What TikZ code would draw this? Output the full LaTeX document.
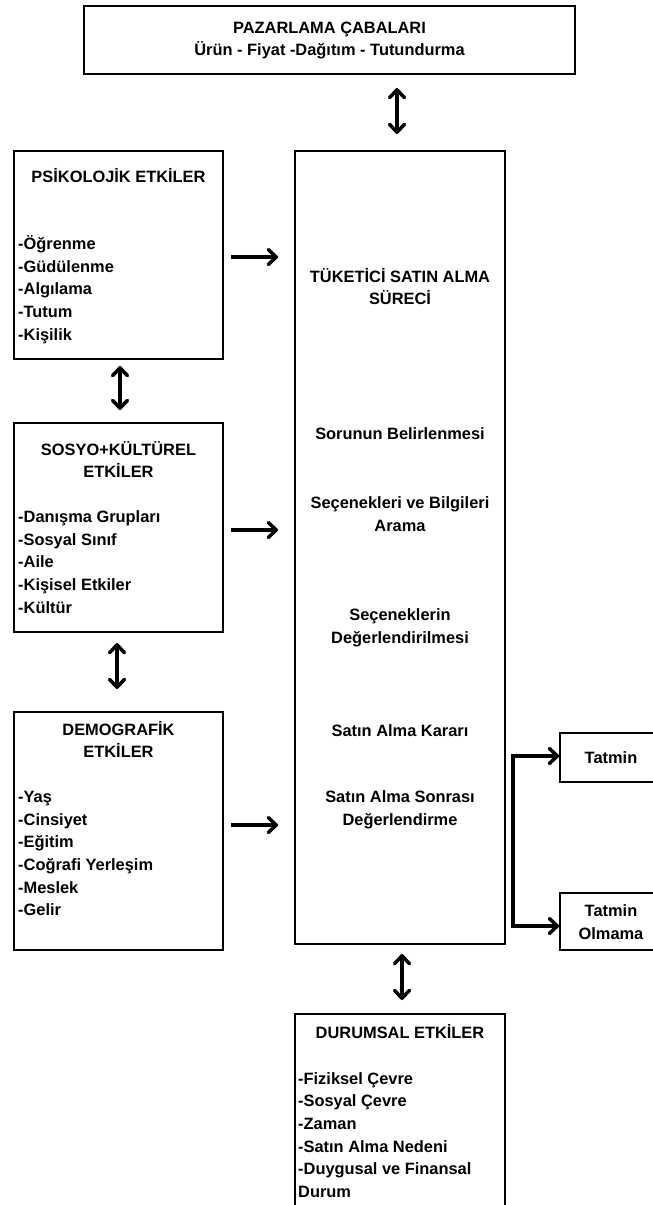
\documentclass[tikz,border=0pt]{standalone}
\usepackage{fontspec}
\setmainfont{Liberation Sans}
\usetikzlibrary{arrows.meta}
\newcommand\fsz{\bfseries\fontsize{16.4}{22.7}\selectfont}
\begin{document}
\begin{tikzpicture}[x=1pt,y=-1pt,
  box/.style={draw, line width=1.8pt, inner sep=0pt},
  txt/.style={font=\fsz, inner sep=0pt, align=center},
  lst/.style={font=\fsz, inner sep=0pt, align=left, anchor=west},
  tip/.style={Straight Barb[length=8pt,width=15pt,line cap=round,line join=round]},
  arr/.style={line width=3.5pt, -{Straight Barb[length=8pt,width=15pt,line cap=round,line join=round]}},
  darr/.style={line width=3.5pt, {Straight Barb[length=8pt,width=15pt,line cap=round,line join=round]}-{Straight Barb[length=8pt,width=15pt,line cap=round,line join=round]}}]
\useasboundingbox (0,0) rectangle (653,1205);
\fill[white] (0,0) rectangle (653,1205);

% boxes
\node[box, minimum width=491pt, minimum height=68pt] (top) at (329.5,40) {};
\node[box, minimum width=210pt, minimum height=793pt] (main) at (400,547.5) {};
\node[box, minimum width=209pt, minimum height=208pt] (psik) at (118.5,255) {};
\node[box, minimum width=209pt, minimum height=209pt] (sosyo) at (118.5,527.5) {};
\node[box, minimum width=209pt, minimum height=238pt] (demo) at (118.5,831) {};
\node[box, minimum width=210pt, minimum height=240pt] (durum) at (400,1134) {};
\node[box, minimum width=102pt, minimum height=49pt] (tatmin) at (611,757.5) {};
\node[box, minimum width=102pt, minimum height=57pt] (olmama) at (611,921.5) {};

% texts
\node[txt] (toptxt) at (329.5,40.5) {PAZARLAMA ÇABALARI\\Ürün - Fiyat -Dağıtım - Tutundurma};

\node[txt] (psikt) at (118.5,176) {PSİKOLOJİK ETKİLER};
\node[lst] (psikl) at (18,289.5) {-Öğrenme\\-Güdülenme\\-Algılama\\-Tutum\\-Kişilik};

\node[txt] (sosyot) at (118.5,459.5) {SOSYO+KÜLTÜREL\\ETKİLER};
\node[lst] (sosyol) at (18,562) {-Danışma Grupları\\-Sosyal Sınıf\\-Aile\\-Kişisel Etkiler\\-Kültür};

\node[txt] (demot) at (118.5,739.5) {DEMOGRAFİK\\ETKİLER};
\node[lst] (demol) at (18,853.5) {-Yaş\\-Cinsiyet\\-Eğitim\\-Coğrafi Yerleşim\\-Meslek\\-Gelir};

\node[txt] (m1) at (400,286.5) {TÜKETİCİ SATIN ALMA\\SÜRECİ};
\node[txt] (m2) at (400,434) {Sorunun Belirlenmesi};
\node[txt] (m3) at (400,514) {Seçenekleri ve Bilgileri\\Arama};
\node[txt] (m4) at (400,628) {Seçeneklerin\\Değerlendirilmesi};
\node[txt] (m5) at (400,731) {Satın Alma Kararı};
\node[txt] (m6) at (400,809.5) {Satın Alma Sonrası\\Değerlendirme};

\node[txt] (durumt) at (400,1032) {DURUMSAL ETKİLER};
\node[lst] (duruml) at (298,1135) {-Fiziksel Çevre\\-Sosyal Çevre\\-Zaman\\-Satın Alma Nedeni\\-Duygusal ve Finansal\\Durum};

\node[txt] (tatmint) at (611,758) {Tatmin};
\node[txt] (olmamat) at (611,922) {Tatmin\\Olmama};

% arrows
\coordinate (t1) at (397,88);
\coordinate (t2) at (397,134);
\draw[darr] (t1) -- (t2);

\coordinate (v1a) at (120,366);
\coordinate (v1b) at (120,410);
\draw[darr] (v1a) -- (v1b);

\coordinate (v2a) at (117,643);
\coordinate (v2b) at (117,689);
\draw[darr] (v2a) -- (v2b);

\coordinate (v3a) at (402,954);
\coordinate (v3b) at (402,1000);
\draw[darr] (v3a) -- (v3b);

\coordinate (h1a) at (231,257);
\coordinate (h1b) at (278,257);
\draw[arr] (h1a) -- (h1b);
\coordinate (h2a) at (231,530);
\coordinate (h2b) at (278,530);
\draw[arr] (h2a) -- (h2b);
\coordinate (h3a) at (231,825);
\coordinate (h3b) at (278,825);
\draw[arr] (h3a) -- (h3b);

\coordinate (fork) at (513,838);
\draw[arr, line join=miter] (fork) |- ([yshift=1.5pt]tatmin.west);
\draw[arr, line join=miter] (fork) |- ([yshift=-4.5pt]olmama.west);
\end{tikzpicture}
\end{document}
